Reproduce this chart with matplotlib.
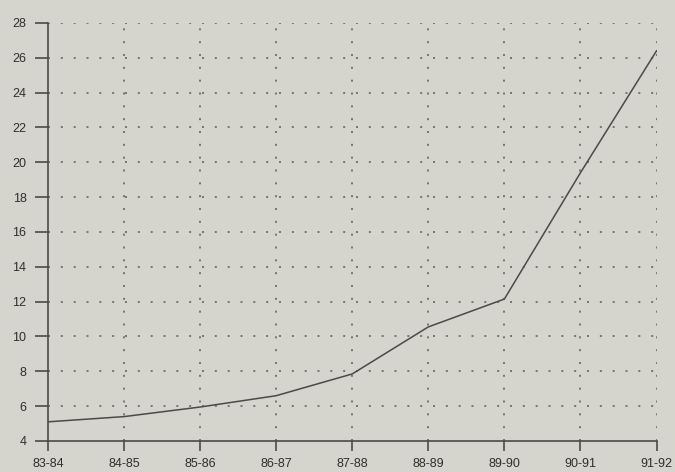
import matplotlib.pyplot as plt

plt.rcParams['font.family'] = ['Liberation Sans', 'DejaVu Sans']

# Values
years = ['83-84', '84-85', '85-86', '86-87', '87-88', '88-89', '89-90', '90-91', '91-92']
values = [5.1, 5.4, 5.95, 6.6, 7.85, 10.55, 12.15, 19.4, 26.4]
y_ticks = [4, 6, 8, 10, 12, 14, 16, 18, 20, 22, 24, 26, 28]

bg = '#d5d5ce'
ink = '#2e2e2c'

fig = plt.figure(figsize=(6.75, 4.72), dpi=100, facecolor=bg)
ax = fig.add_axes([0.0711, 0.0657, 0.9015, 0.8856], facecolor=bg)

x = list(range(len(years)))
ax.plot(x, values, color='#4a4a48', linewidth=1.1, zorder=3)

ax.set_xlim(0, len(years) - 1)
ax.set_ylim(4, 28)
ax.set_xticks(x)
ax.set_xticklabels(years)
ax.set_yticks(y_ticks)

# dotted grid
dot = (0, (1.2, 6.5))
for xi in x[1:]:
    ax.axvline(xi, color='#66665f', linestyle=dot, linewidth=1.2, zorder=1)
for yv in y_ticks[1:]:
    ax.axhline(yv, color='#66665f', linestyle=dot, linewidth=1.2, zorder=1)

for side in ['top', 'right']:
    ax.spines[side].set_visible(False)
for side in ['left', 'bottom']:
    ax.spines[side].set_color('#4a4a48')
    ax.spines[side].set_linewidth(1.2)

ax.tick_params(axis='y', length=9.5, width=1.2, color='#4a4a48', labelsize=9,
               labelcolor=ink, pad=6)
ax.tick_params(axis='x', length=7, width=1.2, color='#4a4a48', labelsize=9,
               labelcolor=ink, pad=5)

fig.savefig('out.png', dpi=100, facecolor=bg)
